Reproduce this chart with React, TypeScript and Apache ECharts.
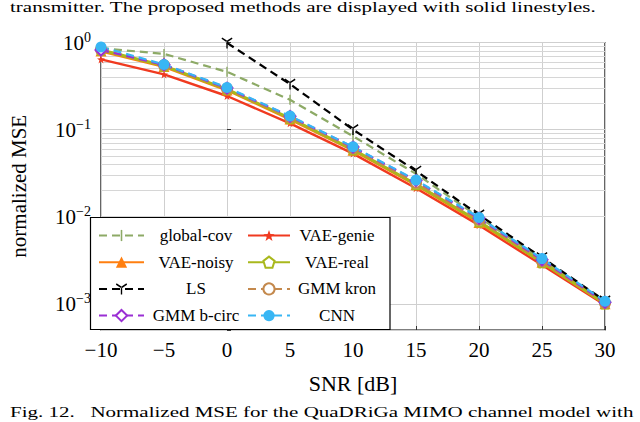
import React, { useEffect, useRef } from "react";
import * as echarts from "echarts";

const SNR = [-10, -5, 0, 5, 10, 15, 20, 25, 30];
const GLOBAL_COV = [0.86, 0.74, 0.46, 0.22, 0.084, 0.031, 0.0099, 0.0032, 0.00104];
const VAE_GENIE = [0.64, 0.43, 0.243, 0.118, 0.053, 0.0212, 0.008, 0.00278, 0.00097];
const VAE_NOISY = [0.8, 0.53, 0.285, 0.132, 0.058, 0.0232, 0.0086, 0.003, 0.001];
const VAE_REAL = [0.82, 0.54, 0.29, 0.135, 0.059, 0.0236, 0.0088, 0.003, 0.00101];
const LS = [null, null, 0.99, 0.333, 0.1, 0.0335, 0.0105, 0.0034, 0.00108];
const GMM_KRON = [0.83, 0.55, 0.295, 0.138, 0.061, 0.0245, 0.0092, 0.0031, 0.00102];
const GMM_BCIRC = [0.82, 0.555, 0.3, 0.142, 0.063, 0.026, 0.0096, 0.0032, 0.00104];
const CNN = [0.89, 0.56, 0.305, 0.143, 0.0635, 0.0263, 0.0098, 0.0033, 0.00107];

const LEGEND_COL1 = ["global-cov", "VAE-noisy", "LS", "GMM b-circ"];
const LEGEND_COL2 = ["VAE-genie", "VAE-real", "GMM kron", "CNN"];

const MINOR_MANT = [2, 3, 4, 5, 6, 7, 8, 9];
const MINOR_EXP = [-4, -3, -2, -1];

const TOP_CAPTION = "transmitter. The proposed methods are displayed with solid linestyles.";
const BOTTOM_CAPTION = "Fig. 12.   Normalized MSE for the QuaDRiGa MIMO channel model with";

const FONT = "'Liberation Serif', 'Times New Roman', serif";

const SYM_BAR = "path://M0,0 L0,0 M8.6,0 L11.4,0 L11.4,20 L8.6,20 Z M20,20 L20,20";
const SYM_STAR =
  "path://M10,0 L12.35,6.76 L19.51,6.91 L13.8,11.24 L15.88,18.09 L10,14 L4.12,18.09 L6.2,11.24 L0.49,6.91 L7.65,6.76 Z";
const SYM_PENT = "path://M10,0 L19.51,6.91 L15.88,18.09 L4.12,18.09 L0.49,6.91 Z";
const SYM_TRI =
  "path://M9,10 L11,10 L11,19 L9,19 Z M10.5,9.13 L2.7,4.63 L1.7,6.37 L9.5,10.87 Z M9.5,9.13 L17.3,4.63 L18.3,6.37 L10.5,10.87 Z";

function pairs(vals: (number | null)[]) {
  return SNR.map((x, i) => [x, vals[i]]);
}

function fmtX(v: number) {
  return v < 0 ? "\u2212" + Math.abs(v) : String(v);
}

function fmtY(v: number) {
  const e = Math.log10(v);
  const r = Math.round(e);
  if (Math.abs(e - r) > 1e-6) return "";
  const s = r < 0 ? "\u2212" + Math.abs(r) : String(r);
  return "{b|10}{s|" + s + "}";
}

export default function App() {
  const ref = useRef<HTMLDivElement>(null);
  useEffect(() => {
    if (!ref.current) return;
    const chart = echarts.init(ref.current, null, { renderer: "svg" });
    const minor: number[] = [];
    MINOR_EXP.forEach((e) =>
      MINOR_MANT.forEach((m) => {
        const v = m * Math.pow(10, e);
        if (v > 0.00051) minor.push(v);
      })
    );
    const dash = [8, 5];
    const mk = (
      name: string,
      vals: (number | null)[],
      color: string,
      width: number,
      type: any,
      symbol: string,
      size: any,
      itemStyle: any
    ) => ({
      type: "line",
      name,
      data: pairs(vals),
      symbol,
      symbolSize: size,
      showSymbol: true,
      lineStyle: { color, width, type },
      itemStyle: { color, ...itemStyle },
      z: 2,
      emphasis: { disabled: true },
    });
    const legendBase = {
      orient: "vertical",
      top: 227,
      padding: 0,
      itemHeight: 14,
      itemGap: 9.7,
      selectedMode: false,
    };
    chart.setOption({
      animation: false,
      grid: {
        left: 90,
        right: 35,
        top: 42.5,
        bottom: 92,
        show: true,
        borderColor: "#000",
        borderWidth: 1.2,
        backgroundColor: "transparent",
      },
      xAxis: {
        type: "value",
        min: -10,
        max: 30,
        interval: 5,
        name: "SNR [dB]",
        nameLocation: "middle",
        nameGap: 42,
        nameTextStyle: { fontFamily: FONT, fontSize: 22, color: "#000" },
        axisLine: { show: false },
        axisTick: { show: true, inside: true, length: 4, lineStyle: { color: "#333" } },
        axisLabel: { formatter: fmtX, fontFamily: FONT, fontSize: 21, color: "#000", margin: 9 },
        splitLine: { show: true, lineStyle: { color: "#cfcfcf", width: 1 } },
      },
      yAxis: {
        type: "log",
        logBase: 10,
        min: 0.0005,
        max: 1,
        name: "normalized MSE",
        nameLocation: "middle",
        nameRotate: 90,
        nameGap: 72,
        nameTextStyle: { fontFamily: FONT, fontSize: 21, color: "#000" },
        axisLine: { show: false },
        axisTick: { show: true, inside: true, length: 4, lineStyle: { color: "#333" } },
        axisLabel: {
          formatter: fmtY,
          margin: 10,
          color: "#000",
          rich: {
            b: { fontFamily: FONT, fontSize: 21, color: "#000", lineHeight: 24 },
            s: { fontFamily: FONT, fontSize: 14, color: "#000", lineHeight: 14, verticalAlign: "top" },
          },
        },
        splitLine: { show: true, lineStyle: { color: "#cfcfcf", width: 1 } },
      },
      legend: [
        {
          ...legendBase,
          left: 98,
          itemWidth: 45,
          data: LEGEND_COL1,
          formatter: (n: string) => "{c|" + n + "}",
          textStyle: {
            rich: { c: { width: 94, align: "center", fontFamily: FONT, fontSize: 17, color: "#000", lineHeight: 16 } },
          },
        },
        {
          ...legendBase,
          left: 247,
          itemWidth: 42,
          data: LEGEND_COL2,
          formatter: (n: string) => "{c|" + n + "}",
          textStyle: {
            rich: { c: { width: 84, align: "center", fontFamily: FONT, fontSize: 17, color: "#000", lineHeight: 16 } },
          },
        },
      ],
      graphic: [
        {
          type: "rect",
          z: 3,
          shape: { x: 90.5, y: 217.5, width: 299.5, height: 112 },
          style: { fill: "#fff", stroke: "#000", lineWidth: 1.2 },
        },
        {
          type: "text",
          x: 10,
          y: 0,
          scaleX: 1.5,
          style: {
            text: TOP_CAPTION,
            font: "14px " + FONT,
            fill: "#000",
            align: "left",
            verticalAlign: "top",
          },
        },
        {
          type: "text",
          x: 10,
          y: 405,
          scaleX: 1.5,
          style: {
            text: BOTTOM_CAPTION,
            font: "14px " + FONT,
            fill: "#000",
            align: "left",
            verticalAlign: "top",
          },
        },
      ],
      series: [
        {
          type: "line",
          name: "_minor",
          data: [[-10, 0.5]],
          showSymbol: false,
          lineStyle: { opacity: 0 },
          z: 1,
          markLine: {
            z: 1,
            silent: true,
            symbol: ["none", "none"],
            label: { show: false },
            lineStyle: { color: "#d6d6d6", width: 1, type: "solid" },
            emphasis: { disabled: true },
            data: minor.map((v) => ({ yAxis: v })),
          },
        },
        mk("global-cov", GLOBAL_COV, "#8DAA66", 2.2, dash, SYM_BAR, 10, {}),
        mk("VAE-genie", VAE_GENIE, "#F03A20", 2.4, "solid", SYM_STAR, 8, {}),
        mk("VAE-noisy", VAE_NOISY, "#FF7F10", 3, "solid", "triangle", 11, {}),
        mk("VAE-real", VAE_REAL, "#A9B81C", 3, "solid", SYM_PENT, 10, {
          color: "#fff",
          borderColor: "#A9B81C",
          borderWidth: 2,
        }),
        mk("LS", LS, "#000", 2.2, dash, SYM_TRI, 11, {}),
        mk("GMM kron", GMM_KRON, "#C4894D", 2.2, dash, "emptyCircle", 10, { borderWidth: 2.5 }),
        mk("GMM b-circ", GMM_BCIRC, "#9A2FD4", 2.2, dash, "emptyDiamond", 11, { borderWidth: 2.5 }),
        mk("CNN", CNN, "#38B6F4", 2.2, dash, "circle", 11, {}),
      ],
    });
    return () => chart.dispose();
  }, []);
  return (
    <div
      ref={ref}
      style={{ position: "fixed", left: 0, top: 0, width: 640, height: 422, background: "#fff" }}
    />
  );
}
